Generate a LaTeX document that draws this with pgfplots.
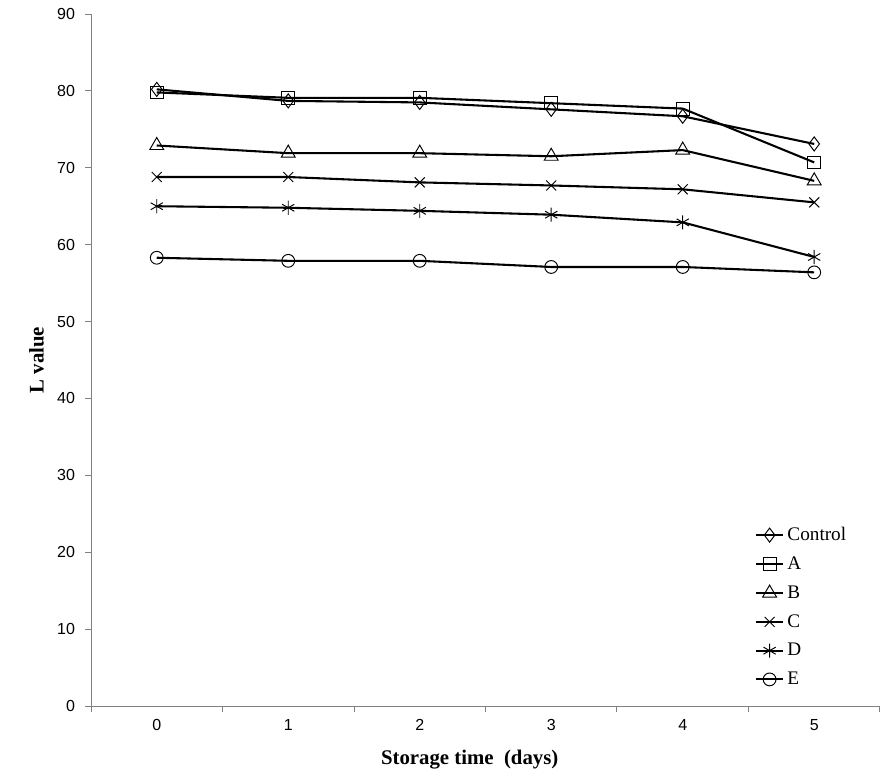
\documentclass[border=0pt]{standalone}
\usepackage{fontspec}
\setmainfont{Liberation Serif}
\newfontfamily\ticksans{Liberation Sans}
\usepackage{pgfplots}
\pgfplotsset{compat=1.18}

\begin{document}
\begin{tikzpicture}
\useasboundingbox (-56.875pt,-46.25pt) rectangle (503.125pt,441.25pt);
\begin{axis}[
    scale only axis,
    width=493.1pt, height=432.5pt,
    xmin=-0.5, xmax=5.5,
    ymin=0, ymax=90,
    axis x line*=bottom, axis y line*=left,
    axis line style={gray, line width=0.6pt},
    xtick={0,...,5},
    major x tick style={draw=none},
    minor xtick={-0.5,0.5,1.5,2.5,3.5,4.5,5.5},
    minor x tick style={gray, line width=0.6pt},
    ytick={0,10,...,90},
    major y tick style={gray, line width=0.6pt},
    tick align=outside,
    major tick length=3.5pt, minor tick length=3.5pt,
    /pgf/number format/assume math mode=true,
    ticklabel style={font=\ticksans\fontsize{10}{12}\selectfont},
    yticklabel style={xshift=-3pt},
    xticklabel style={yshift=-1pt, text height=7.5pt, text depth=0pt},
    xlabel={Storage time\ \ (days)},
    ylabel={L value},
    label style={font=\bfseries\fontsize{13}{15}\selectfont},
    xlabel style={at={(axis description cs:0.48,-0.078)}, anchor=center},
    ylabel style={at={(axis description cs:-0.069,0.5)}, anchor=center},
    legend style={at={(rel axis cs:0.835,0.268)}, anchor=north west,
        draw=none, fill=none, font=\fontsize{12}{14}\selectfont,
        row sep=4.6pt, legend cell align=left},
    ser/.style={black, solid, line width=1.3pt,
        mark options={solid, fill=none, line width=0.6pt}},
]
\addplot[ser, mark=diamond, mark size=4.4pt] coordinates {
    (0,80.2) (1,78.7) (2,78.5) (3,77.6) (4,76.7) (5,73.1)};
\addlegendentry{Control}
\addplot[ser, mark=square, mark size=4pt] coordinates {
    (0,79.8) (1,79.1) (2,79.1) (3,78.4) (4,77.7) (5,70.7)};
\addlegendentry{A}
\addplot[ser, mark=triangle, mark size=5pt] coordinates {
    (0,72.9) (1,71.9) (2,71.9) (3,71.5) (4,72.3) (5,68.3)};
\addlegendentry{B}
\addplot[ser, mark=x, mark size=4.4pt] coordinates {
    (0,68.8) (1,68.8) (2,68.1) (3,67.7) (4,67.2) (5,65.5)};
\addlegendentry{C}
\addplot[ser, mark=asterisk, mark size=4.4pt] coordinates {
    (0,65.0) (1,64.8) (2,64.4) (3,63.9) (4,62.9) (5,58.4)};
\addlegendentry{D}
\addplot[ser, mark=o, mark size=4pt] coordinates {
    (0,58.3) (1,57.9) (2,57.9) (3,57.1) (4,57.1) (5,56.4)};
\addlegendentry{E}
\end{axis}
\end{tikzpicture}
\end{document}
